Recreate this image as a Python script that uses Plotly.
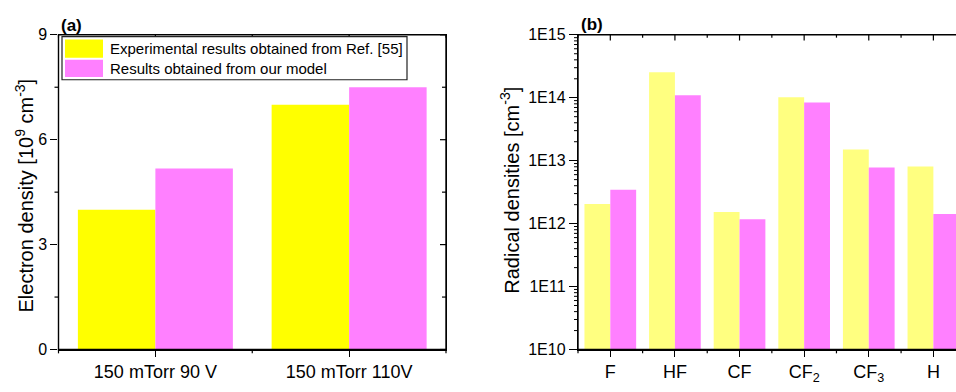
import math
import plotly.graph_objects as go

W, H = 956, 392

# ---- data ----
cond_labels = ["150 mTorr 90 V", "150 mTorr 110V"]
exp_ne = [4.0, 7.0]
model_ne = [5.18, 7.5]

species = ["F", "HF", "CF", "CF<sub>2</sub>", "CF<sub>3</sub>", "H"]
exp_rad = [2.05e12, 2.55e14, 1.53e12, 1.02e14, 1.5e13, 8.1e12]
model_rad = [3.45e12, 1.1e14, 1.17e12, 8.4e13, 7.8e12, 1.42e12]

legend_labels = ["Experimental results obtained from Ref. [55]", "Results obtained from our model"]
lin_tick_vals = [0, 3, 6, 9]
lin_minor_vals = [1.5, 4.5, 7.5]
log_tick_vals = [1e10, 1e11, 1e12, 1e13, 1e14, 1e15]
log_tick_text = ["1E10", "1E11", "1E12", "1E13", "1E14", "1E15"]
log_minor_vals = [m * d for d in log_tick_vals[:-1] for m in range(2, 10)]

def px(x):
    return x / W

def py(y):
    return 1 - y / H

FONT = "Liberation Sans, Arial, sans-serif"
YEL_A, PINK = "#FFFF00", "#FF80FF"
YEL_B = "#FFFF80"

xa = list(range(len(cond_labels)))
xb = list(range(len(species)))
minor_a = [i - 0.5 for i in range(len(cond_labels) + 1)]
minor_b = [i - 0.5 for i in range(len(species) + 1)]

fig = go.Figure()
fig.add_bar(x=xa, y=exp_ne, marker=dict(color=YEL_A, line=dict(width=0)),
            xaxis="x", yaxis="y", showlegend=False)
fig.add_bar(x=xa, y=model_ne, marker=dict(color=PINK, line=dict(width=0)),
            xaxis="x", yaxis="y", showlegend=False)
fig.add_bar(x=xb, y=exp_rad, marker=dict(color=YEL_B, line=dict(width=0)),
            xaxis="x2", yaxis="y2", showlegend=False)
fig.add_bar(x=xb, y=model_rad, marker=dict(color=PINK, line=dict(width=0)),
            xaxis="x2", yaxis="y2", showlegend=False)

TOP, BOT = 28, 357
LA, RA = 58.5, 446
LB = 578
ydom = [py(BOT), py(TOP)]
dom_a = [px(LA), px(RA)]
dom_b = [px(LB), 1.0]
rng_a = [-0.5, 1.5]
rng_b = [-0.5, 5.35]
rng_ya = [0, 9]
rng_yb = [10, 15]

common = dict(showline=True, linecolor="black", linewidth=1.4, showgrid=False,
              zeroline=False, tickcolor="black", tickwidth=1.2)
tickf_x = dict(family=FONT, size=18, color="black")
tickf_y = dict(family=FONT, size=16, color="black")

fig.update_layout(
    width=W, height=H, margin=dict(l=0, r=0, t=0, b=0, pad=0),
    paper_bgcolor="white", plot_bgcolor="white",
    barmode="group", bargap=0.2, bargroupgap=0,
    font=dict(family=FONT, color="black"),
    xaxis=dict(domain=dom_a, anchor="y", range=rng_a, tickmode="array",
               tickvals=xa, ticktext=cond_labels, ticks="outside", ticklen=6,
               tickfont=tickf_x, mirror=True, **common),
    yaxis=dict(domain=ydom, anchor="x", range=rng_ya, tickmode="array",
               tickvals=lin_tick_vals, ticks="outside", ticklen=7, tickfont=tickf_y,
               mirror=True, **common),
    xaxis2=dict(domain=dom_b, anchor="y2", range=rng_b, tickmode="array",
                tickvals=xb, ticktext=species, ticks="outside", ticklen=6,
                tickfont=tickf_x, mirror=True, **common),
    yaxis2=dict(domain=ydom, anchor="x2", type="log", range=rng_yb, tickmode="array",
                tickvals=log_tick_vals, ticktext=log_tick_text, ticks="outside", ticklen=8,
                tickfont=tickf_y, **common),
)

# ---- extra tick marks (minor ticks, inward mirrored ticks) as thin line shapes ----
def xpaper(v, dom, rng):
    return dom[0] + (v - rng[0]) / (rng[1] - rng[0]) * (dom[1] - dom[0])

def ypaper(v, rng):
    return ydom[0] + (v - rng[0]) / (rng[1] - rng[0]) * (ydom[1] - ydom[0])

tick_shapes = []

def xticks(vals, dom, rng, ypix, length):
    for v in vals:
        if rng[0] <= v <= rng[1]:
            xp = xpaper(v, dom, rng)
            tick_shapes.append(dict(type="line", xref="paper", yref="paper",
                                    x0=xp, x1=xp, y0=py(ypix), y1=py(ypix + length),
                                    line=dict(color="black", width=1.2), layer="above"))

def yticks(vals, rng, xpix, length, log=False, lw=1.2):
    for v in vals:
        vv = math.log10(v) if log else v
        if rng[0] <= vv <= rng[1]:
            yp = ypaper(vv, rng)
            tick_shapes.append(dict(type="line", xref="paper", yref="paper",
                                    x0=px(xpix), x1=px(xpix + length), y0=yp, y1=yp,
                                    line=dict(color="black", width=lw), layer="above"))

# left panel
xticks(minor_a, dom_a, rng_a, BOT, 4)          # bottom minor, outside
xticks(xa, dom_a, rng_a, TOP, 5)               # top major, inside
xticks(minor_a, dom_a, rng_a, TOP, 3)          # top minor, inside
yticks(lin_minor_vals, rng_ya, LA, -4)         # left minor, outside
yticks(lin_tick_vals, rng_ya, RA, -6)          # right major, inside
yticks(lin_minor_vals, rng_ya, RA, -4)         # right minor, inside
# right panel
xticks(minor_b, dom_b, rng_b, BOT, 4)
xticks(xb, dom_b, rng_b, TOP, 6)
xticks(minor_b, dom_b, rng_b, TOP, 3)
yticks(log_minor_vals, rng_yb, LB, -4, log=True, lw=1)

# frame outlines of both plot areas (right panel is cut off at the page edge)
frame_shapes = [
    dict(type="rect", xref="paper", yref="paper", x0=px(LA), x1=px(RA),
         y0=py(BOT), y1=py(TOP), line=dict(color="black", width=1.4),
         fillcolor="rgba(0,0,0,0)", layer="above"),
    dict(type="rect", xref="paper", yref="paper", x0=px(LB), x1=px(W + 10),
         y0=py(BOT), y1=py(TOP), line=dict(color="black", width=1.4),
         fillcolor="rgba(0,0,0,0)", layer="above"),
]

ann = [
    dict(text="Electron density [10<sup>9</sup> cm<sup>-3</sup>]", x=px(24), y=py(196),
         textangle=-90, font=dict(size=20)),
    dict(text="Radical densities [cm<sup>-3</sup>]", x=px(510), y=py(191),
         textangle=-90, font=dict(size=20)),
    dict(text="<b>(a)</b>", x=px(59), y=py(18), xanchor="left", font=dict(size=17)),
    dict(text="<b>(b)</b>", x=px(579), y=py(17), xanchor="left", font=dict(size=17)),
]
for a in ann:
    a.setdefault("xanchor", "center")
    fig.add_annotation(xref="paper", yref="paper", yanchor="middle", showarrow=False,
                       font_family=FONT, font_color="black", **a)

# manual legend (large swatches as in reference)
shapes = [dict(type="rect", xref="paper", yref="paper", x0=px(62), x1=px(407),
               y0=py(75), y1=py(30), line=dict(color="#222", width=1.2),
               fillcolor="white", layer="above")]
sw_rows = [(33, 52), (54, 72)]
for (y0, y1), col, lab in zip(sw_rows, [YEL_A, PINK], legend_labels):
    shapes.append(dict(type="rect", xref="paper", yref="paper", x0=px(65), x1=px(103),
                       y0=py(y1), y1=py(y0), line=dict(width=0), fillcolor=col, layer="above"))
    fig.add_annotation(xref="paper", yref="paper", x=px(108), y=py((y0 + y1) / 2),
                       xanchor="left", yanchor="middle", showarrow=False, text=lab,
                       font=dict(family=FONT, size=15, color="black"))
fig.update_layout(shapes=frame_shapes + tick_shapes + shapes)

fig.write_html("out.html")
